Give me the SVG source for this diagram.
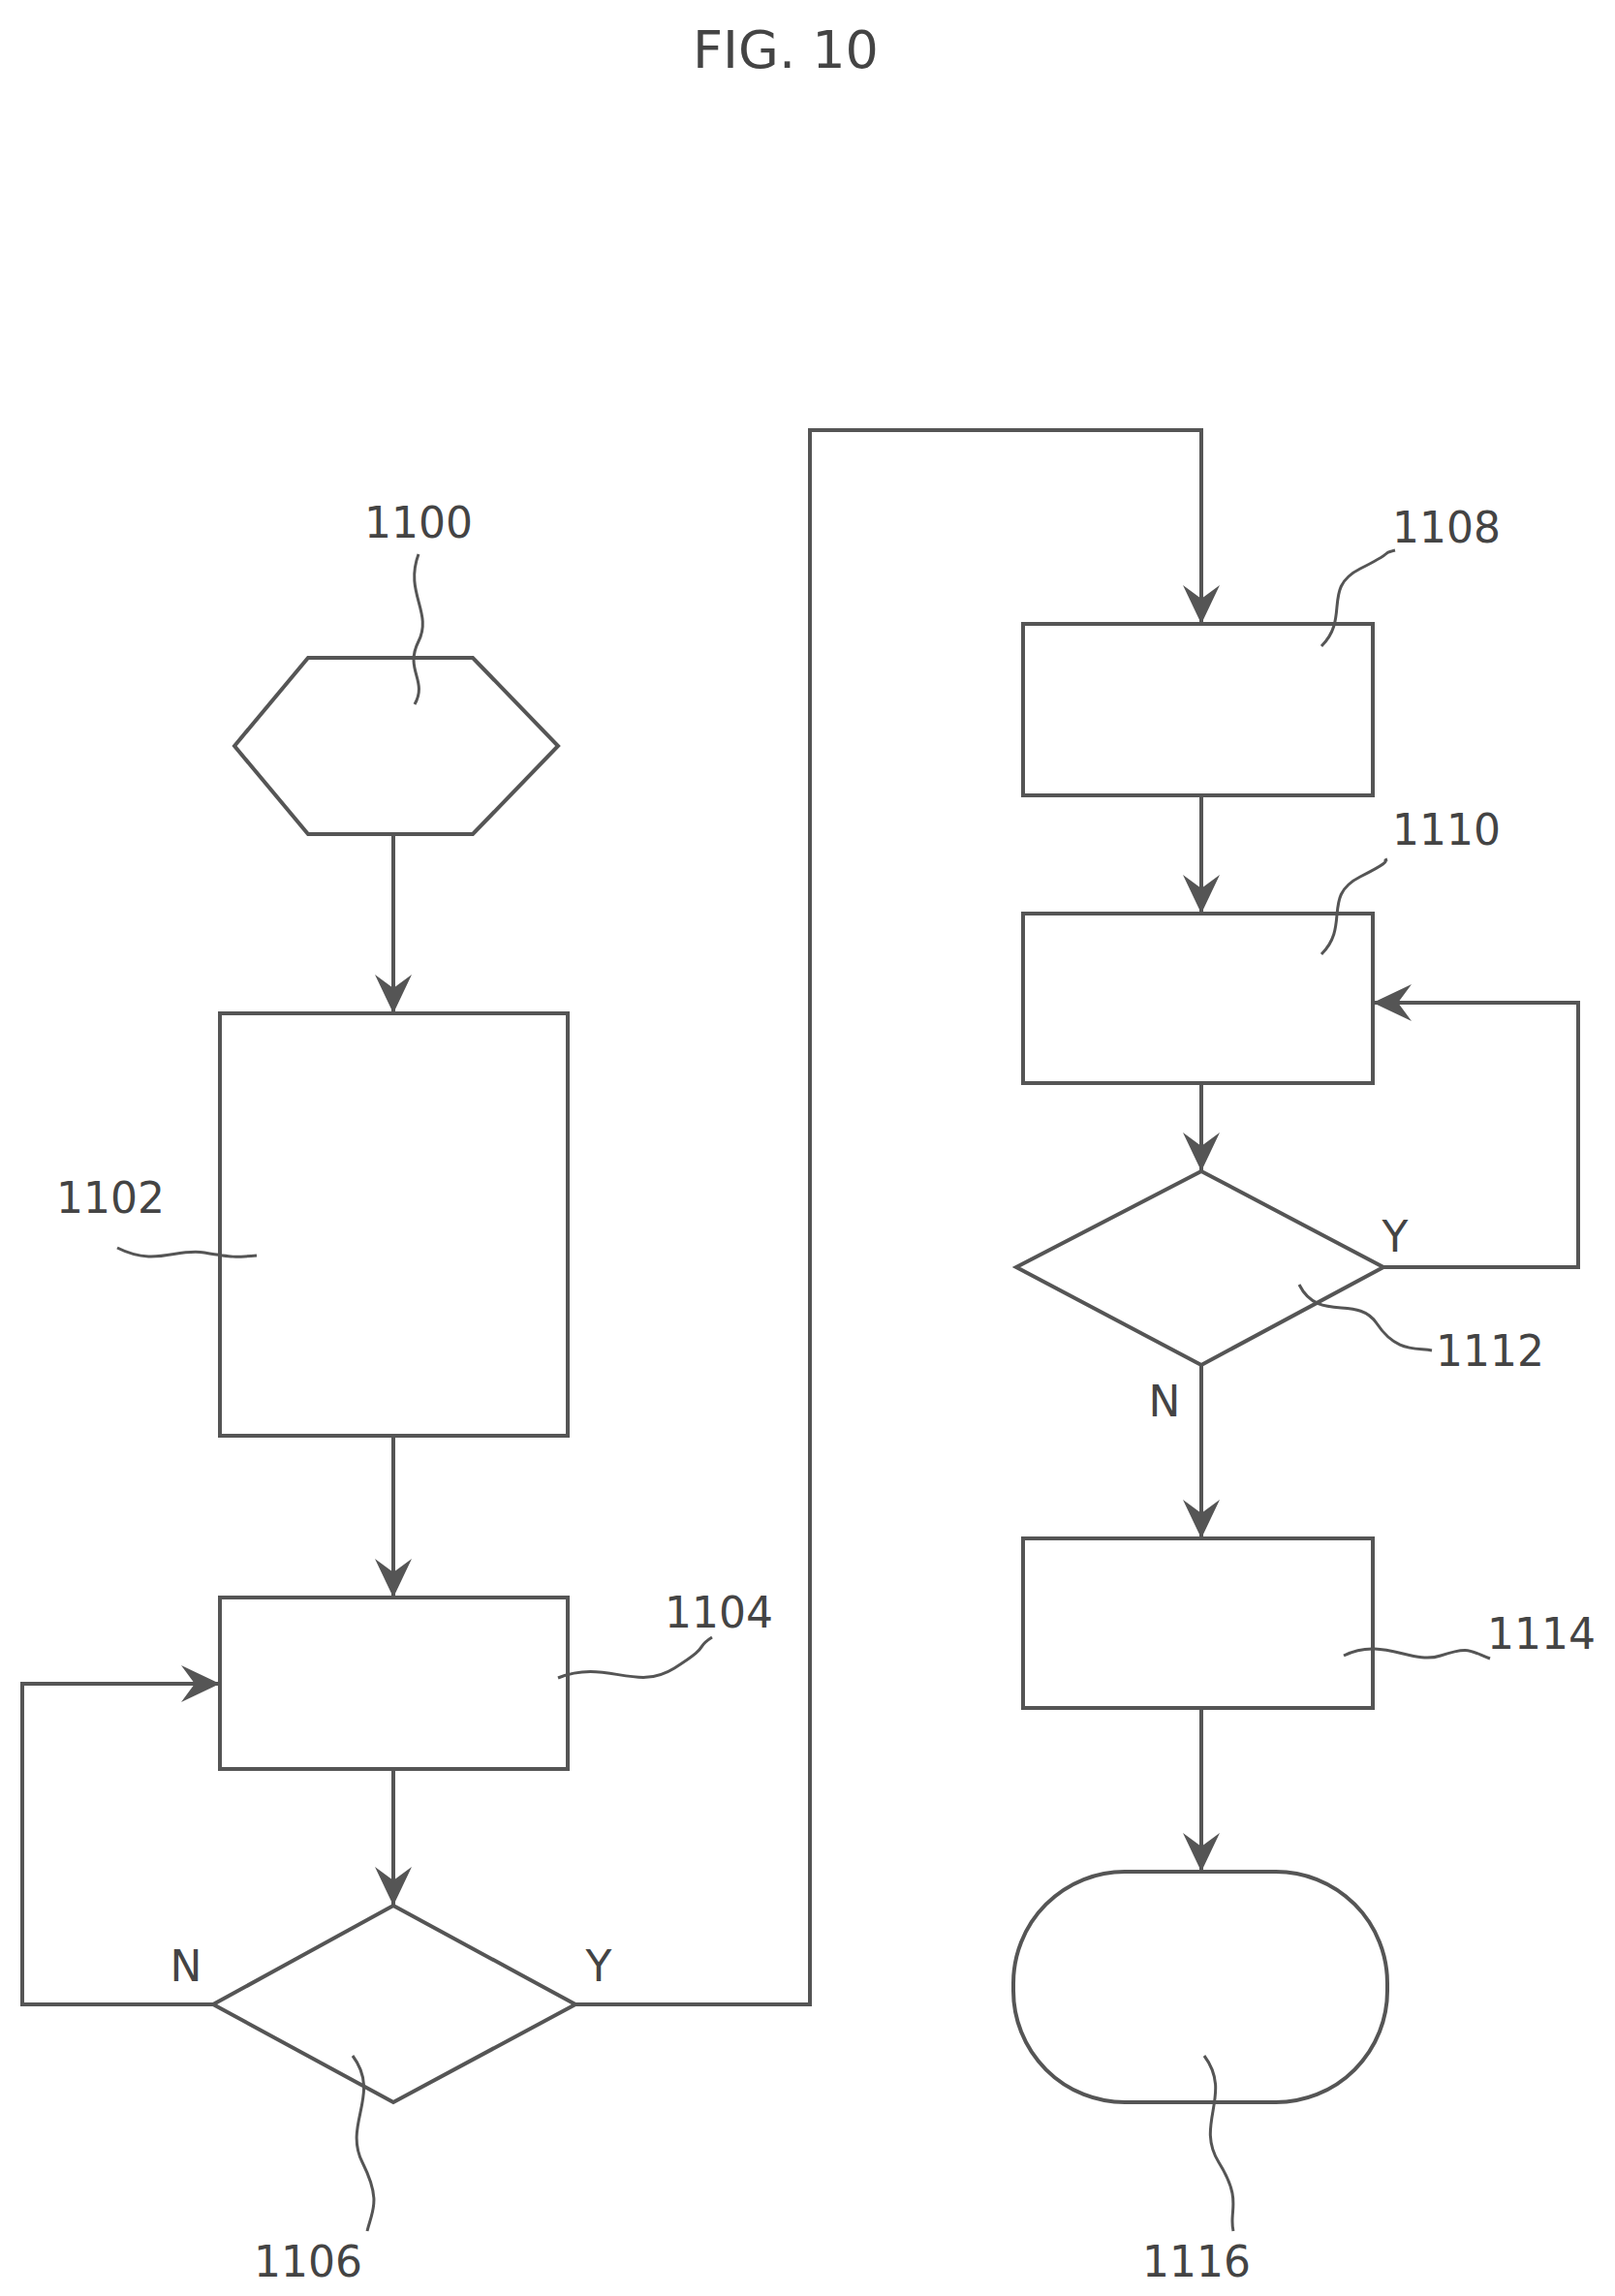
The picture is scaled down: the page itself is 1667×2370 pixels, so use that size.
<svg xmlns="http://www.w3.org/2000/svg" width="1667" height="2370" viewBox="0 0 1667 2370">
<style>
.s{fill:none;stroke:#555;stroke-width:4}
.c{fill:none;stroke:#555;stroke-width:3}
.t{font-family:"DejaVu Sans",sans-serif;font-size:44px;fill:#444;text-anchor:middle}
</style>
<defs>
<marker id="a" refX="0" refY="0" markerWidth="60" markerHeight="60" markerUnits="userSpaceOnUse" orient="auto" style="overflow:visible">
<path d="M-40,-19 L0,0 L-40,19 L-26,0 Z" fill="#555"/>
</marker>
</defs>
<rect width="1667" height="2370" fill="#fff"/>
<text class="t" x="811" y="70" style="font-size:54px">FIG. 10</text>
<g id="n1100"><polygon class="s" points="242,770 318,679 488,679 576,770 488,861 318,861"/><text class="t" x="432" y="555">1100</text><path class="c" d="M432,572 c-15,40 15,60 0,90 s10,40 -4,65"/></g>
<g id="n1102"><rect class="s" x="227" y="1046" width="359" height="436"/><text class="t" x="114" y="1252">1102</text><path class="c" d="M121,1288 c40,20 60,0 90,5 s30,5 54,3"/></g>
<g id="n1104"><rect class="s" x="227" y="1649" width="359" height="177"/><text class="t" x="742" y="1680">1104</text><path class="c" d="M576,1732 c50,-20 80,15 120,-10 s20,-20 39,-32"/></g>
<g id="n1106"><polygon class="s" points="406,1967 594,2069 406,2170 220,2069"/><text class="t" x="318" y="2350">1106</text><path class="c" d="M364,2122 c30,40 -10,70 10,110 s10,50 5,71"/></g>
<g id="n1108"><rect class="s" x="1056" y="644" width="361" height="177"/><text class="t" x="1493" y="560">1108</text><path class="c" d="M1364,667 c30,-30 0,-60 40,-80 s20,-15 36,-19"/></g>
<g id="n1110"><rect class="s" x="1056" y="943" width="361" height="175"/><text class="t" x="1493" y="872">1110</text><path class="c" d="M1364,985 c30,-30 0,-60 40,-80 s20,-15 28,-18"/></g>
<g id="n1112"><polygon class="s" points="1240,1209 1428,1308 1240,1409 1049,1308"/><text class="t" x="1538" y="1410">1112</text><path class="c" d="M1341,1326 c20,40 60,10 80,40 s40,25 57,28"/></g>
<g id="n1114"><rect class="s" x="1056" y="1588" width="361" height="175"/><text class="t" x="1591" y="1702">1114</text><path class="c" d="M1387,1709 c40,-20 70,10 100,0 s30,-5 51,3"/></g>
<g id="n1116"><rect class="s" x="1046" y="1932" width="386" height="238" rx="115" ry="115"/><text class="t" x="1235" y="2350">1116</text><path class="c" d="M1243,2122 c30,40 -10,70 15,110 s10,50 15,71"/></g>
<g id="connectors">
<line class="s" x1="406" y1="861" x2="406" y2="1046" marker-end="url(#a)"/>
<line class="s" x1="406" y1="1482" x2="406" y2="1649" marker-end="url(#a)"/>
<line class="s" x1="406" y1="1826" x2="406" y2="1967" marker-end="url(#a)"/>
<polyline class="s" points="220,2069 23,2069 23,1738 227,1738" marker-end="url(#a)"/>
<polyline class="s" points="594,2069 836,2069 836,444 1240,444 1240,644" marker-end="url(#a)"/>
<line class="s" x1="1240" y1="821" x2="1240" y2="943" marker-end="url(#a)"/>
<line class="s" x1="1240" y1="1118" x2="1240" y2="1209" marker-end="url(#a)"/>
<polyline class="s" points="1428,1308 1629,1308 1629,1035 1417,1035" marker-end="url(#a)"/>
<line class="s" x1="1240" y1="1409" x2="1240" y2="1588" marker-end="url(#a)"/>
<line class="s" x1="1240" y1="1763" x2="1240" y2="1932" marker-end="url(#a)"/>
<text class="t" x="192" y="2045">N</text>
<text class="t" x="618" y="2045">Y</text>
<text class="t" x="1440" y="1292">Y</text>
<text class="t" x="1202" y="1462">N</text>
</g>
</svg>
